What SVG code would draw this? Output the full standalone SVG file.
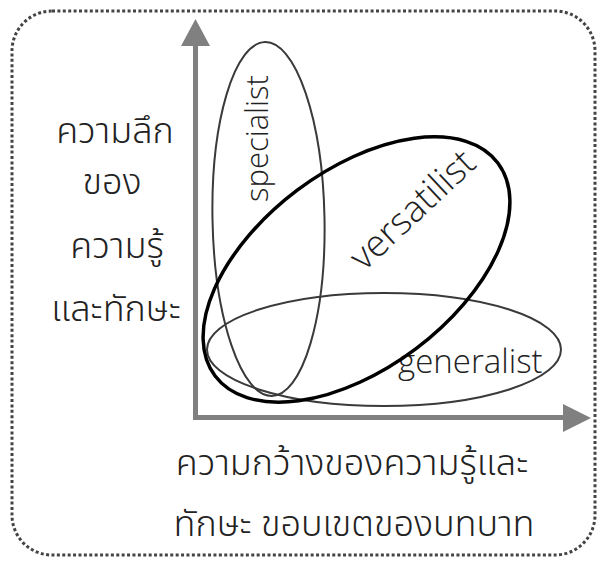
<svg xmlns="http://www.w3.org/2000/svg" width="601" height="563" viewBox="0 0 601 563">
<style>
.th{font-family:"Noto Sans Thai","Noto Sans",sans-serif;font-size:36px;font-weight:300;fill:#222;text-anchor:middle}
.en{font-family:"Open Sans","Liberation Sans",sans-serif;font-weight:300;fill:#222}
.ax{stroke:#808080;stroke-width:5;fill:none}
.thin{fill:none;stroke:#3a3a3a;stroke-width:2}
.thick{fill:none;stroke:#000;stroke-width:3.5}
</style>
<rect x="12" y="11" width="583" height="544" rx="40" ry="40" fill="#fff" stroke="#444" stroke-width="3" stroke-dasharray="3 2.4"/>
<g id="axes">
<path class="ax" d="M195.5,45 V417.5 H563"/>
<polygon points="195.5,19 181,46 210,46" fill="#808080"/>
<polygon points="591,418 563,404 563,432" fill="#808080"/>
</g>
<g id="specialist">
<ellipse class="thin" cx="268.5" cy="219" rx="56" ry="177" transform="rotate(-1.1 268.5 219)"/>
<text class="en" font-size="31" transform="translate(268 202) rotate(-90)">specialist</text>
</g>
<g id="generalist">
<ellipse class="thin" cx="384" cy="349.5" rx="177" ry="56.5"/>
<text class="en" font-size="33" x="398" y="373">generalist</text>
</g>
<g id="versatilist">
<ellipse class="thick" cx="356.5" cy="269.5" rx="177" ry="99" transform="rotate(-37 356.5 269.5)"/>
<text class="en" font-size="37" transform="translate(364 272) rotate(-43)">versatilist</text>
</g>
<g id="y-label">
<text class="th" x="115" y="143">ความลึก</text>
<text class="th" x="112" y="194">ของ</text>
<text class="th" x="117" y="258">ความรู้</text>
<text class="th" x="116" y="321">และทักษะ</text>
</g>
<g id="x-label">
<text class="th" x="352" y="475">ความกว้างของความรู้และ</text>
<text class="th" x="354" y="536">ทักษะ ขอบเขตของบทบาท</text>
</g>
</svg>
